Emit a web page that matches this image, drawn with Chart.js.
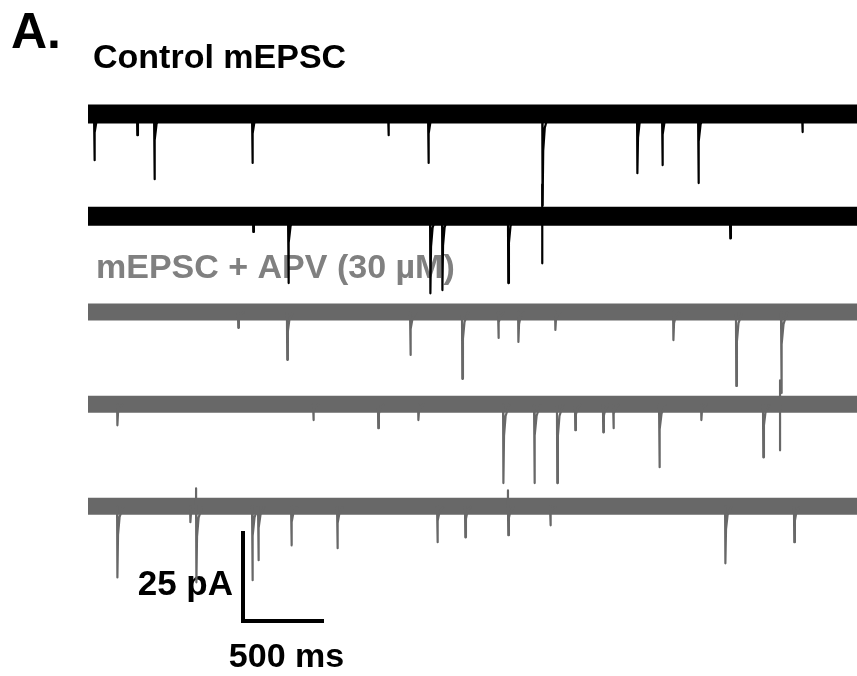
<!DOCTYPE html>
<html>
<head>
<meta charset="utf-8">
<script src="https://cdn.jsdelivr.net/npm/chart.js@4"></script>
<style>
  html, body { margin: 0; padding: 0; background: #fff; }
  #wrap { width: 857px; height: 676px; }
</style>
</head>
<body>
<div id="wrap"><canvas id="trazas" width="857" height="676"></canvas></div>
<script>
const control1 = [[38,13.1],[310,6.0],[418,18.5],[1038,13.9],[1899,6.0],[2152,13.9],
                  [2875,25.9],[3475,16.8],[3633,14.5],[3861,19.6],[4519,5.1]];
const control2 = [[1044,4.5],[1266,19.0],[2165,21.9],[2241,21.0],[2658,19.0],[4063,6.3]];
const apv1 = [[949,4.5],[1259,13.6],[2038,12.2],[2367,19.0],[2595,7.4],[2722,8.5],
              [2956,5.1],[3703,8.0],[4101,21.0],[4386,23.0]];
const apv2 = [[184,6.0],[1424,4.5],[1835,6.8],[2089,4.5],[2627,22.4],[2823,22.4],[2968,22.4],
              [3082,7.4],[3259,8.0],[3323,6.8],[3614,17.9],[3880,4.5],[4272,15.1]];
const apv3 = [[184,20.2],[646,4.5],[684,21.6],[1038,21.0],[1076,15.3],[1285,11.1],[1576,11.9],
              [2209,10.2],[2386,8.8],[2658,8.2],[2924,5.4],[4032,16.2],[4468,10.2]];

// artefactos (lineas verticales): [tiempo (ms), hacia abajo (pA), hacia arriba (pA)]
const artefactos2 = [[2875,13.4,9.0]];
const artefactosApv2 = [[4380,13.1,6.8]];
const artefactosApv3 = [[684,0,5.1],[2658,0,4.5]];

// barra de escala
const barraTiempo = 500;   // ms
const barraCorriente = 25; // pA

const duracion = 4870; // ms mostrados por traza

// forma de cada evento: [dt (ms), fraccion de la amplitud]
const forma = [[0,0],[2,1],[6,0.4],[16,0.15],[40,0]];

// lineas base de cada traza (pA en el eje comun)
const bases = [-32.4, -61.4, -88.6, -114.8, -143.8];
const negro = '#000000';
const gris = '#686868';

function eventos(lista, base) {
    const pts = [];
    for (const [t, amp] of lista) {
        for (const [dt, f] of forma) pts.push({x: t + dt, y: base - amp * f});
        pts.push({x: t + 41, y: null});
    }
    return pts;
}

function artefactos(lista, base) {
    const pts = [];
    for (const [t, abajo, arriba] of lista) {
        pts.push({x: t, y: base + arriba});
        pts.push({x: t, y: base - abajo});
        pts.push({x: t, y: null});
    }
    return pts;
}

function traza(lista, arts, base, color, ancho) {
    return [
        {
            data: eventos(lista, base).concat(artefactos(arts, base)),
            borderColor: color,
            borderWidth: 2.2,
            borderJoinStyle: 'round',
        },
        {
            data: [{x: 0, y: base}, {x: duracion, y: base}],
            borderColor: color,
            borderWidth: ancho,
            borderCapStyle: 'butt',
        },
    ];
}

const bx = 981;
const by = -176.4;
const barra = {
    data: [{x: bx, y: by + barraCorriente}, {x: bx, y: by}, {x: bx + barraTiempo, y: by}],
    borderColor: '#000',
    borderWidth: 4,
    borderCapStyle: 'square',
};

const fuente = '"Liberation Sans", Arial, sans-serif';

const rotulos = {
    id: 'rotulos',
    beforeDatasetsDraw(chart) {
        const c = chart.ctx;
        const sx = chart.scales.x;
        const sy = chart.scales.y;
        c.save();
        c.textBaseline = 'alphabetic';
        c.fillStyle = '#000';
        c.font = 'bold 50px ' + fuente;
        c.fillText('A.', 11, 48);
        c.font = 'bold 34px ' + fuente;
        c.fillText('Control mEPSC', 93, 68);
        c.fillStyle = '#808080';
        c.fillText('mEPSC + APV (30 µM)', 96, 278);
        c.fillStyle = '#000';
        c.font = 'bold 35px ' + fuente;
        c.textAlign = 'right';
        c.fillText(barraCorriente + ' pA', sx.getPixelForValue(bx) - 10, sy.getPixelForValue(by + barraCorriente * 0.3));
        c.textAlign = 'center';
        c.font = 'bold 34px ' + fuente;
        c.fillText(barraTiempo + ' ms', sx.getPixelForValue(bx + barraTiempo * 0.5) + 4, sy.getPixelForValue(by) + 46);
        c.restore();
    }
};

const datasets = [].concat(
    traza(control1, [], bases[0], negro, 19),
    traza(control2, artefactos2, bases[1], negro, 19),
    traza(apv1, [], bases[2], gris, 17),
    traza(apv2, artefactosApv2, bases[3], gris, 17),
    traza(apv3, artefactosApv3, bases[4], gris, 17),
    [barra]
);

const ctx = document.getElementById('trazas').getContext('2d');
new Chart(ctx, {
    type: 'scatter',
    data: { datasets: datasets },
    options: {
        responsive: false,
        animation: false,
        showLine: true,
        spanGaps: false,
        elements: { point: { radius: 0 }, line: { tension: 0 } },
        layout: { padding: 0 },
        plugins: { legend: { display: false }, tooltip: { enabled: false } },
        scales: {
            x: { type: 'linear', display: false, min: -557, max: 4867 },
            y: { type: 'linear', display: false, min: -192, max: 0 }
        }
    },
    plugins: [rotulos]
});
</script>
</body>
</html>
